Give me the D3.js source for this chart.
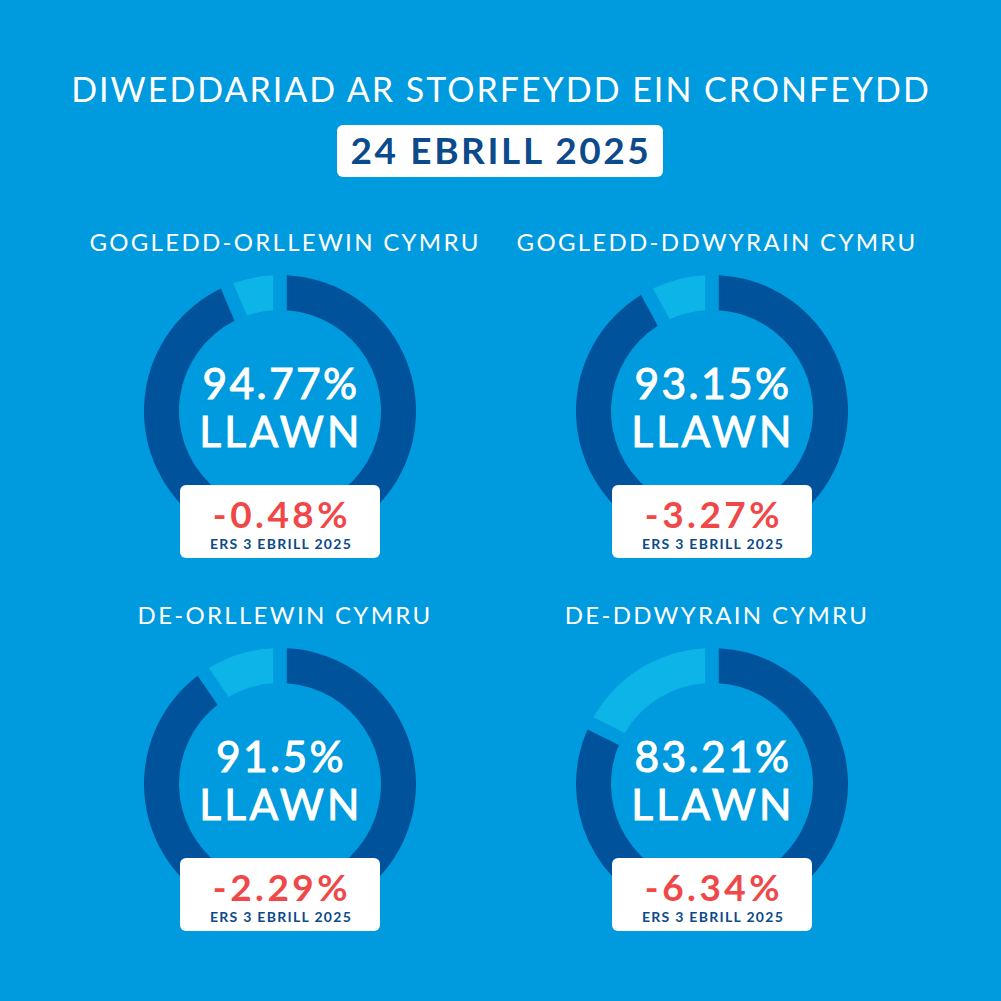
<!DOCTYPE html>
<html>
<head>
<meta charset="utf-8">
<script src="https://cdn.jsdelivr.net/npm/d3@7"></script>
<style>
  html, body { margin: 0; padding: 0; background: #009ade; }
  svg { display: block; }
  text { font-family: Lato, "Open Sans", sans-serif; }
</style>
</head>
<body>
<div id="chart"></div>
<script>
// Data
const title = "DIWEDDARIAD AR STORFEYDD EIN CRONFEYDD";
const dateLabel = "24 EBRILL 2025";
const regions = ["GOGLEDD-ORLLEWIN CYMRU", "GOGLEDD-DDWYRAIN CYMRU", "DE-ORLLEWIN CYMRU", "DE-DDWYRAIN CYMRU"];
const fullPct = [94.77, 93.15, 91.5, 83.21];
const changePct = ["-0.48%", "-3.27%", "-2.29%", "-6.34%"];
const sinceLabel = "ERS 3 EBRILL 2025";
const fullWord = "LLAWN";

const width = 1001, height = 1001;
const colors = {bg: "#009ade", full: "#00539b", empty: "#0db4e7", navy: "#0b4a8b", red: "#f04848"};

const svg = d3.select("#chart").append("svg")
  .attr("width", width)
  .attr("height", height);

svg.append("rect").attr("width", width).attr("height", height).attr("fill", colors.bg);

// Heading
svg.append("text")
  .attr("x", 501).attr("y", 102)
  .attr("text-anchor", "middle")
  .attr("fill", "#fff")
  .attr("font-size", 34)
  .attr("letter-spacing", 2)
  .text(title);

svg.append("rect")
  .attr("x", 337).attr("y", 125).attr("width", 326).attr("height", 52)
  .attr("rx", 6).attr("fill", "#fff");

svg.append("text")
  .attr("x", 501).attr("y", 164)
  .attr("text-anchor", "middle")
  .attr("fill", colors.navy)
  .attr("font-size", 37)
  .attr("font-weight", 700)
  .attr("letter-spacing", 2.6)
  .text(dateLabel);

// 2x2 grid of donuts
const col = d3.scalePoint().domain([0, 1]).range([280, 712]);
const row = d3.scalePoint().domain([0, 1]).range([411, 784]);

const outerR = 136, innerR = 101;
const pie = d3.pie().sort(null).value(d => d).padAngle(0.08);
const arc = d3.arc().innerRadius(innerR).outerRadius(outerR);

const cells = svg.selectAll("g.region")
  .data(regions.map((name, i) => ({name, full: fullPct[i], change: changePct[i], i})))
  .join("g")
  .attr("class", "region")
  .attr("transform", d => `translate(${col(d.i % 2)},${row(Math.floor(d.i / 2))})`);

cells.append("text")
  .attr("x", 5).attr("y", -160)
  .attr("text-anchor", "middle")
  .attr("fill", "#fff")
  .attr("font-size", 24)
  .attr("letter-spacing", 2.3)
  .text(d => d.name);

cells.selectAll("path")
  .data(d => pie([d.full, 100 - d.full]))
  .join("path")
  .attr("d", arc)
  .attr("fill", (d, j) => j === 0 ? colors.full : colors.empty);

// value and "LLAWN"
const big = cells.append("g")
  .attr("fill", "#fff")
  .attr("stroke", "#fff")
  .attr("stroke-width", 1)
  .attr("font-size", 42.5)
  .attr("text-anchor", "middle");

big.append("text")
  .attr("x", 1).attr("y", -12)
  .attr("letter-spacing", 2.4)
  .text(d => d.full + "%");

big.append("text")
  .attr("x", 1).attr("y", 36)
  .attr("letter-spacing", 3.3)
  .text(fullWord);

cells.append("rect")
  .attr("x", -100).attr("y", 74).attr("width", 200).attr("height", 73)
  .attr("rx", 6).attr("fill", "#fff");

cells.append("text")
  .attr("x", 2).attr("y", 117)
  .attr("text-anchor", "middle")
  .attr("fill", colors.red)
  .attr("font-size", 37)
  .attr("font-weight", 700)
  .attr("letter-spacing", 3.5)
  .text(d => d.change);

cells.append("text")
  .attr("x", 1).attr("y", 138)
  .attr("text-anchor", "middle")
  .attr("fill", colors.navy)
  .attr("font-size", 14)
  .attr("font-weight", 700)
  .attr("letter-spacing", 1.3)
  .text(sinceLabel);
</script>
</body>
</html>
